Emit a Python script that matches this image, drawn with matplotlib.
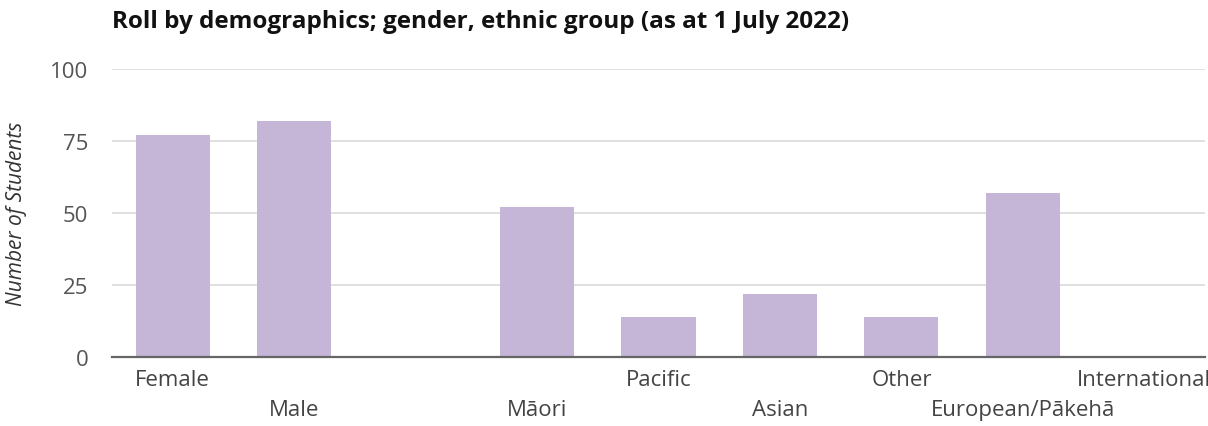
import matplotlib.pyplot as plt
import numpy as np

# data
categories = ["Female", "Male", "", "Māori", "Pacific", "Asian", "Other", "European/Pākehā", "International"]
students = [77, 82, 0, 52, 14, 22, 14, 57, 0]
yticks = [0, 25, 50, 75, 100]

barColor = "#C5B6D8"

plt.rcParams["font.family"] = ["Open Sans", "DejaVu Sans"]

fig = plt.figure(figsize=(12.08, 4.27), dpi=100)
ax = fig.add_axes([112 / 1208, 1 - 358 / 427, (1205 - 112) / 1208, (358 - 70) / 427])

x = np.arange(len(categories))
ax.bar(x, students, width=0.61, color=barColor, zorder=2)

ax.set_xlim(-0.5, len(categories) - 0.5)
ax.set_ylim(0, 100)
ax.set_yticks(yticks)
ax.set_yticklabels([str(t) for t in yticks], fontsize=16, color="#555555")
ax.grid(axis="y", color="#DDDDDD", linewidth=1.3, zorder=0)
ax.tick_params(axis="y", length=0, pad=17)

ax.set_xticks(x)
ax.set_xticklabels(categories, fontsize=16, color="#444444")
ax.tick_params(axis="x", length=0)
for i, tick in enumerate(ax.xaxis.get_major_ticks()):
    tick.set_pad(9 if i % 2 == 0 else 30)

for side in ["top", "right", "left"]:
    ax.spines[side].set_visible(False)
ax.spines["bottom"].set_color("#666666")
ax.spines["bottom"].set_linewidth(1.6)
ax.spines["bottom"].set_zorder(3)

ax.set_ylabel("Number of Students", fontsize=15, style="italic", color="#333333")
ax.yaxis.set_label_coords(-85 / 1093, 0.5)

fig.text(112 / 1208, 1 - 22 / 427, "Roll by demographics; gender, ethnic group (as at 1 July 2022)",
         fontsize=17.5, fontweight="bold", color="#111111", va="center", ha="left")

fig.savefig("out.png", dpi=100)
plt.close()
